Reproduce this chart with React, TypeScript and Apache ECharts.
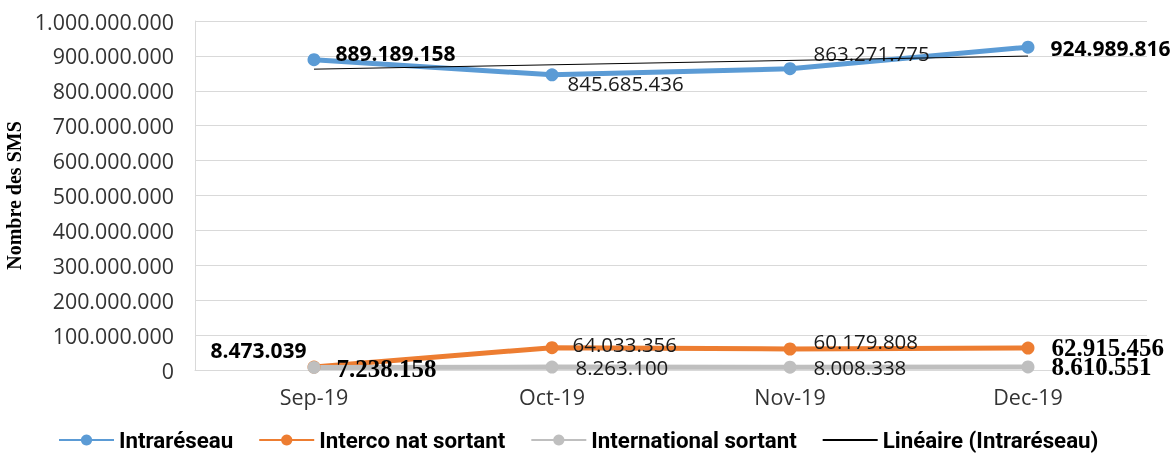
import React, { useEffect, useRef } from "react";
import * as echarts from "echarts";

const categories = ["Sep-19", "Oct-19", "Nov-19", "Dec-19"];
const intraValues = [889189158, 845685436, 863271775, 924989816];
const intercoValues = [8473039, 64033356, 60179808, 62915456];
const internationalValues = [7238158, 8263100, 8008338, 8610551];
// Excel linear trend line of Intraréseau, endpoints
const trendValues: (number | null)[] = [862000000, null, null, 899500000];

const yMin = 0;
const yMax = 1000000000;
const yInterval = 100000000;

const seriesNames = ["Intraréseau", "Interco nat sortant", "International sortant", "Linéaire (Intraréseau)"];

const SANS = "'Open Sans', sans-serif";
const SERIF = "'Liberation Serif', serif";

const fmt = (n: number) => String(Math.round(n)).replace(/\B(?=(\d{3})+(?!\d))/g, ".");

type LabelKind = "plain" | "boldSans" | "boldSerif";
type LabelSpec = { kind: LabelKind; pos: "right" | "left"; dx: number; dy: number };

const intraLabels: LabelSpec[] = [
  { kind: "boldSans", pos: "right", dx: 10, dy: -7 },
  { kind: "plain", pos: "right", dx: 4, dy: 8 },
  { kind: "plain", pos: "right", dx: 12, dy: -16 },
  { kind: "boldSans", pos: "right", dx: 11, dy: 1 },
];
const intercoLabels: LabelSpec[] = [
  { kind: "boldSans", pos: "left", dx: -4, dy: -17 },
  { kind: "plain", pos: "right", dx: 9, dy: -4 },
  { kind: "plain", pos: "right", dx: 12, dy: -8 },
  { kind: "boldSerif", pos: "right", dx: 12, dy: -1 },
];
const internationalLabels: LabelSpec[] = [
  { kind: "boldSerif", pos: "right", dx: 11, dy: 1 },
  { kind: "plain", pos: "right", dx: 12, dy: 0 },
  { kind: "plain", pos: "right", dx: 12, dy: 0 },
  { kind: "boldSerif", pos: "right", dx: 12, dy: 0 },
];

function labelStyle(spec: LabelSpec) {
  const base: any = {
    show: true,
    position: spec.pos,
    distance: 5,
    offset: [spec.pos === "left" ? -spec.dx : spec.dx, spec.dy],
    formatter: (p: any) => fmt(p.value),
    verticalAlign: "middle",
  };
  if (spec.kind === "plain") {
    return { ...base, fontFamily: SANS, fontSize: 20.5, fontWeight: "normal", color: "#1a1a1a" };
  }
  if (spec.kind === "boldSans") {
    return { ...base, fontFamily: SANS, fontSize: 21, fontWeight: "bold", color: "#000" };
  }
  return { ...base, fontFamily: SERIF, fontSize: 25, fontWeight: "bold", color: "#000" };
}

const buildData = (values: number[], labels: LabelSpec[]) =>
  values.map((v, i) => ({ value: v, label: labelStyle(labels[i]) }));

export default function App() {
  const ref = useRef<HTMLDivElement>(null);
  useEffect(() => {
    const chart = echarts.init(ref.current!, null, { renderer: "svg" });
    const lineSeries = (name: string, color: string, values: number[], labels: LabelSpec[]) => ({
      name,
      type: "line",
      data: buildData(values, labels),
      symbol: "circle",
      symbolSize: 13,
      itemStyle: { color },
      lineStyle: { color, width: 5 },
      emphasis: { disabled: true },
    });
    chart.setOption({
      animation: false,
      grid: { left: 195, right: 28, top: 21, bottom: 88, containLabel: false, outerBoundsMode: "none" },
      legend: {
        left: 58,
        top: 429,
        padding: 0,
        itemWidth: 55,
        itemHeight: 14,
        itemGap: 25,
        data: [
          seriesNames[0],
          seriesNames[1],
          seriesNames[2],
          { name: seriesNames[3], itemStyle: { opacity: 0 } },
        ],
        textStyle: { fontFamily: "Roboto, sans-serif", fontWeight: "bold", fontSize: 22.3, color: "#000" },
      },
      xAxis: {
        type: "category",
        data: categories,
        boundaryGap: true,
        axisLine: { show: true, lineStyle: { color: "#D9D9D9", width: 1 } },
        axisTick: { show: false },
        axisLabel: { margin: 15, fontFamily: SANS, fontSize: 21.5, color: "#333" },
      },
      yAxis: {
        type: "value",
        min: yMin,
        max: yMax,
        interval: yInterval,
        name: "Nombre des SMS",
        nameLocation: "middle",
        nameGap: 162,
        nameTextStyle: { fontFamily: SERIF, fontWeight: "bold", fontSize: 20, color: "#000" },
        axisLine: { show: true, lineStyle: { color: "#D9D9D9", width: 1 } },
        axisTick: { show: false },
        splitLine: { show: true, lineStyle: { color: "#D9D9D9", width: 1 } },
        axisLabel: { margin: 21, fontFamily: SANS, fontSize: 21.4, color: "#333", formatter: (v: number) => fmt(v) },
      },
      series: [
        lineSeries(seriesNames[0], "#5B9BD5", intraValues, intraLabels),
        lineSeries(seriesNames[1], "#ED7D31", intercoValues, intercoLabels),
        lineSeries(seriesNames[2], "#BFBFBF", internationalValues, internationalLabels),
        {
          name: seriesNames[3],
          type: "line",
          data: trendValues,
          connectNulls: true,
          symbol: "none",
          itemStyle: { color: "#000" },
          lineStyle: { color: "#000", width: 1 },
          emphasis: { disabled: true },
          z: 5,
        },
      ],
    });
    return () => chart.dispose();
  }, []);
  return <div ref={ref} style={{ position: "fixed", left: 0, top: 0, width: 1175, height: 458 }} />;
}
